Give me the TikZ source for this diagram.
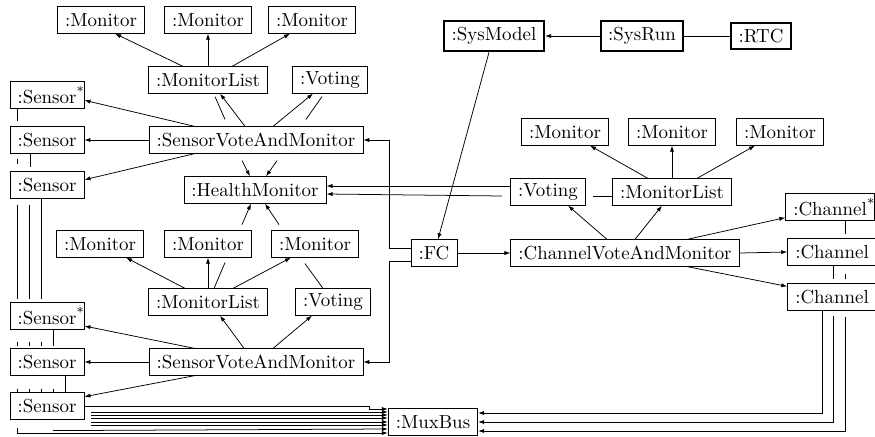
\documentclass[tikz,border=0pt]{standalone}
\usetikzlibrary{arrows.meta}
\begin{document}
\begin{tikzpicture}[x=0.0186cm,y=-0.0186cm,>={Latex[length=3.2pt,width=2.2pt]},
    obj/.style={draw,inner xsep=4pt,inner ysep=2pt,minimum height=14pt},
    sysobj/.style={obj,line width=1.2pt,minimum height=16pt}]
    \useasboundingbox (0,0) rectangle (875,436);
    % system objects
    \node[sysobj] (sysmodel) at (494,36) {:SysModel};
    \node[sysobj] (sysrun) at (642,36) {:SysRun};
    \node[sysobj,minimum height=13.5pt] (rtc) at (761,36) {:RTC};
    \node[obj] (fc) at (434,253) {:FC};
    \node[obj] (mux) at (433,422) {:MuxBus};
    % upper sensor group
    \node[obj] (monA1) at (101,20) {:Monitor};
    \node[obj] (monA2) at (208,20) {:Monitor};
    \node[obj] (monA3) at (312,20) {:Monitor};
    \node[obj] (mlA) at (208,80) {:MonitorList};
    \node[obj] (votA) at (330,80) {:Voting};
    \node[obj] (svmA) at (256,140) {:SensorVoteAndMonitor};
    \node[obj] (hm) at (255,190) {:HealthMonitor};
    \node[obj] (senA1) at (47,95) {:Sensor\rlap{\raisebox{2pt}{$^*$}}};
    \node[obj] (senA2) at (47,140) {:Sensor};
    \node[obj] (senA3) at (47,185) {:Sensor};
    % lower sensor group
    \node[obj] (monB1) at (100,244) {:Monitor};
    \node[obj] (monB2) at (208,244) {:Monitor};
    \node[obj] (monB3) at (315,244) {:Monitor};
    \node[obj] (mlB) at (208,302) {:MonitorList};
    \node[obj] (votB) at (333,302) {:Voting};
    \node[obj] (svmB) at (256,362) {:SensorVoteAndMonitor};
    \node[obj] (senB1) at (47,316) {:Sensor\rlap{\raisebox{2pt}{$^*$}}};
    \node[obj] (senB2) at (47,362) {:Sensor};
    \node[obj] (senB3) at (47,406) {:Sensor};
    % channel group
    \node[obj] (monC1) at (565,132) {:Monitor};
    \node[obj] (monC2) at (672,132) {:Monitor};
    \node[obj] (monC3) at (780,132) {:Monitor};
    \node[obj] (votC) at (548,192) {:Voting};
    \node[obj] (mlC) at (672,192) {:MonitorList};
    \node[obj] (cvm) at (625,253) {:ChannelVoteAndMonitor};
    \node[obj] (chC1) at (830,207) {:Channel\rlap{\raisebox{2pt}{$^*$}}};
    \node[obj] (chC2) at (832,252) {:Channel};
    \node[obj] (chC3) at (832,297) {:Channel};

    % system links
    \draw[->] (sysrun) -- (sysmodel);
    \draw (sysrun) -- (rtc);
    \draw[->] ([shift={(-5,0)}]sysmodel.south) -- ([shift={(4,0)}]fc.north);
    \draw[->] ([shift={(0,-5)}]fc.west) -- ++(-21,0) |- (svmA.east);
    \draw[->] ([shift={(0,8)}]fc.west) -- ++(-21,0) |- (svmB.east);
    \draw[->] (fc) -- (cvm);

    % upper group links
    \draw[->] ([shift={(-25,0)}]mlA.north) -- ([shift={(14,0)}]monA1.south);
    \draw[->] (mlA.north) -- (monA2.south);
    \draw[->] ([shift={(24,0)}]mlA.north) -- ([shift={(-22,0)}]monA3.south);
    \draw[->] ([shift={(-11,0)}]svmA.north) -- ([shift={(12,0)}]mlA.south);
    \draw ([shift={(-31,-7)}]svmA.north) -- ([shift={(7,3)}]mlA.south);
    \draw[->] ([shift={(17,0)}]svmA.north) -- ([shift={(-17,0)}]votA.south);
    \draw ([shift={(50,-7)}]svmA.north) -- ([shift={(-8,3)}]votA.south);
    \draw[->] ([shift={(-14,7)}]svmA.south) -- ([shift={(-5,0)}]hm.north);
    \draw[->] ([shift={(21,7)}]svmA.south) -- ([shift={(11,0)}]hm.north);
    \draw[->] ([shift={(46,0)}]svmA.north west) -- (senA1.-8);
    \draw[->] (svmA.west) -- (senA2.east);
    \draw[->] ([shift={(46,0)}]svmA.south west) -- (senA3.8);

    % lower group links
    \draw[->] ([shift={(-23,0)}]mlB.north) -- ([shift={(26,0)}]monB1.south);
    \draw[->] (mlB.north) -- (monB2.south);
    \draw ([shift={(6,0)}]mlB.north) -- ([shift={(17,5)}]monB2.south);
    \draw[->] ([shift={(25,0)}]mlB.north) -- ([shift={(-24,0)}]monB3.south);
    \draw ([shift={(-10,0)}]votB.north) -- ([shift={(-10,6)}]monB3.south);
    \draw[->] ([shift={(-12,0)}]svmB.north) -- ([shift={(12,0)}]mlB.south);
    \draw[->] ([shift={(17,0)}]svmB.north) -- ([shift={(-21,0)}]votB.south);
    \draw[->] ([shift={(-13,21)}]hm.south) -- ([shift={(-4,0)}]hm.south);
    \draw[->] ([shift={(24,21)}]hm.south) -- ([shift={(10,0)}]hm.south);
    \draw[->] ([shift={(46,0)}]svmB.north west) -- (senB1.-15);
    \draw[->] (svmB.west) -- (senB2.east);
    \draw[->] ([shift={(46,0)}]svmB.south west) -- (senB3.14);

    % sensor column stubs
    \draw ([shift={(-30,0)}]senA1.south) -- ++(0,12);
    \draw ([shift={(-30,5)}]senA2.south) -- ++(0,5);
    \draw ([shift={(-17,0)}]senA2.south) -- ++(0,13);
    \draw ([shift={(-30,6)}]senA3.south) -- ++(0,94);
    \draw ([shift={(-18,6)}]senA3.south) -- ++(0,94);
    \draw ([shift={(-6,0)}]senA3.south) -- ++(0,100);
    \foreach \dx in {-30,-18,-6}
        \draw ([shift={(\dx,12)}]senB1.south) -- ++(0,4);
    \draw ([shift={(6,0)}]senB1.south) -- ++(0,16);
    \foreach \dx in {-30,-18,-6,6}
        \draw ([shift={(\dx,13)}]senB2.south) -- ++(0,4);
    \draw ([shift={(18,0)}]senB2.south) -- ++(0,17);

    % sensor to bus
    \draw[->] (senB3.east) -- ++(285,0) |- ([shift={(0,-13)}]mux.west);
    \foreach \d in {-10,-7,-4,0,3}
        \draw[->] ([shift={(7,16+\d)}]senB3.east) -- ([shift={(0,\d)}]mux.west);
    \draw[->] ([shift={(6,11)}]senB3.south) -- ([shift={(0,7)}]mux.west);
    \draw[->] ([shift={(-30,8)}]senB3.south) |- ([shift={(0,11)}]mux.west);

    % channel group links
    \draw[->] ([shift={(0,-6)}]votC.west) -- ([shift={(0,-4)}]hm.east);
    \draw[->] ([shift={(-8,4)}]votC.west) -- ([shift={(0,4)}]hm.east);
    \draw ([shift={(7,4)}]votC.east) -- ([shift={(0,4)}]mlC.west);
    \draw[->] ([shift={(-18,0)}]cvm.north) -- ([shift={(20,0)}]votC.south);
    \draw[->] ([shift={(10,0)}]cvm.north) -- ([shift={(-10,0)}]mlC.south);
    \draw[->] ([shift={(-24,0)}]mlC.north) -- ([shift={(25,0)}]monC1.south);
    \draw[->] (mlC.north) -- (monC2.south);
    \draw[->] ([shift={(25,0)}]mlC.north) -- ([shift={(-25,0)}]monC3.south);
    \draw[->] ([shift={(62,0)}]cvm.north) -- ([shift={(0,-3)}]chC1.south west);
    \draw[->] (cvm.east) -- (chC2.west);
    \draw[->] ([shift={(62,0)}]cvm.south) -- ([shift={(0,3)}]chC3.north west);
    \draw ([shift={(15,0)}]chC1.south) -- ++(0,13);
    \draw ([shift={(1,0)}]chC2.south) -- ++(0,13);
    \draw ([shift={(13,8)}]chC2.south) -- ++(0,5);
    \draw[->] ([shift={(-10,0)}]chC3.south) |- ([shift={(0,-9)}]mux.east);
    \draw[->] ([shift={(1,5)}]chC3.south) |- (mux.east);
    \draw[->] ([shift={(13,6)}]chC3.south) |- ([shift={(0,9)}]mux.east);
\end{tikzpicture}
\end{document}
